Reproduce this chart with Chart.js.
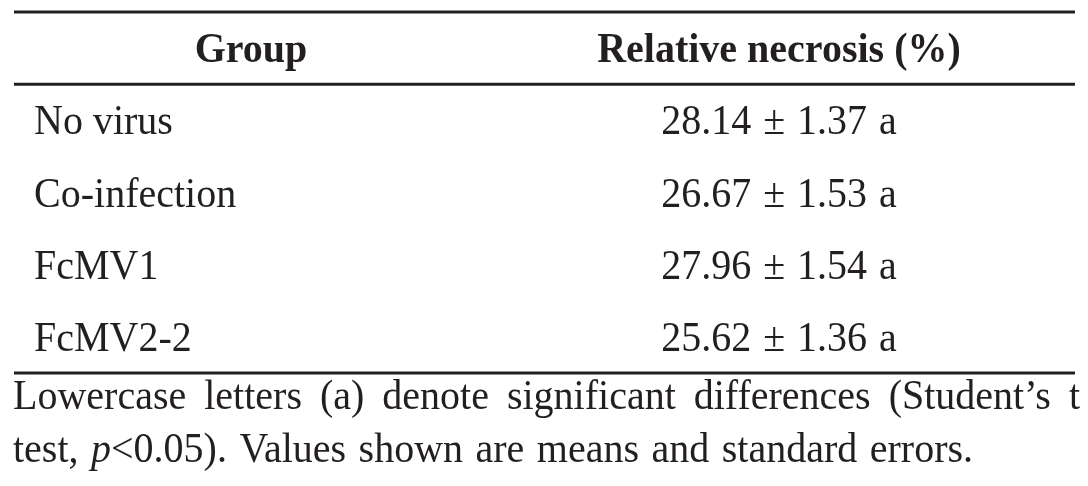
<!DOCTYPE html>
<html><head><meta charset="utf-8">
<script src="https://cdn.jsdelivr.net/npm/chart.js@4.4.0/dist/chart.umd.min.js"></script>
<style>html,body{margin:0;padding:0;background:#fff;overflow:hidden}</style>
</head><body>
<canvas id="c" width="1088" height="486"></canvas>
<script>
// ---- data ----
const headers = ['Group', 'Relative necrosis (%)'];
const groups = ['No virus', 'Co-infection', 'FcMV1', 'FcMV2-2'];
const means = [28.14, 26.67, 27.96, 25.62];
const sems = [1.37, 1.53, 1.54, 1.36];
const letters = ['a', 'a', 'a', 'a'];
const footLine1 = ['Lowercase', 'letters', '(a)', 'denote', 'significant', 'differences', '(Student\u2019s', 't'];
const footLine2 = [['test,', false], [' ', false], ['p', true], ['<0.05).', false], [' ', false], ['Values', false], [' ', false], ['shown', false], [' ', false], ['are', false], [' ', false], ['means', false], [' ', false], ['and', false], [' ', false], ['standard', false], [' ', false], ['errors.', false]];

// ---- styling ----
const INK = '#231f20';
const FONT = '"Liberation Serif", "Times New Roman", serif';
const SIZE = 40;
const VSCALE = 1.05;
const COL_GROUP_LEFT = 0.0189;   // fraction of table width
const COL_GROUP_CENTER = 0.2234;
const COL_VALUE_CENTER = 0.7210;

const rowLabels = [headers[0]].concat(groups);

function txt(ctx, s, x, y) {
  ctx.save();
  ctx.translate(x, y);
  ctx.scale(1, VSCALE);
  ctx.fillText(s, 0, 0);
  ctx.restore();
}

const tablePlugin = {
  id: 'tablePlugin',
  afterDatasetsDraw(chart) {
    const ctx = chart.ctx;
    const ys = chart.scales.y;
    const area = chart.chartArea;
    ctx.save();
    ctx.fillStyle = INK;
    ctx.strokeStyle = INK;
    ctx.textBaseline = 'alphabetic';
    const capHalf = 14;
    // rules
    ctx.lineWidth = 3;
    const hdrRule = (ys.getPixelForValue(0) + ys.getPixelForValue(1)) / 2;
    [area.top, hdrRule, area.bottom].forEach(y => {
      ctx.beginPath(); ctx.moveTo(area.left, y); ctx.lineTo(area.right, y); ctx.stroke();
    });
    // header
    ctx.font = 'bold ' + SIZE + 'px ' + FONT;
    ctx.textAlign = 'center';
    chart.getDatasetMeta(0).data.forEach((pt, i) => { txt(ctx, headers[i], pt.x, pt.y + capHalf); });
    // group names
    ctx.font = SIZE + 'px ' + FONT;
    ctx.textAlign = 'left';
    chart.getDatasetMeta(1).data.forEach((pt, i) => { txt(ctx, groups[i], pt.x, pt.y + capHalf); });
    // values (mean ± sem letter), slightly wider spaces
    chart.getDatasetMeta(2).data.forEach((pt, i) => {
      const parts = [means[i].toFixed(2), '\u00b1', sems[i].toFixed(2), letters[i]];
      const sp = ctx.measureText(' ').width + 2;
      const ws = parts.map(p => ctx.measureText(p).width);
      const tot = ws.reduce((a, b) => a + b, 0) + sp * (parts.length - 1);
      let x = pt.x - tot / 2;
      parts.forEach((p, k) => { txt(ctx, p, x, pt.y + capHalf); x += ws[k] + sp; });
    });
    // footnote (justified first line)
    const left = area.left - 1, right = 1080;
    const widths = footLine1.map(w => ctx.measureText(w).width);
    const total = widths.reduce((a, b) => a + b, 0);
    const gap = (right - left - total) / (footLine1.length - 1);
    let x = left;
    const y1 = area.bottom + 36;
    footLine1.forEach((w, i) => { txt(ctx, w, x, y1); x += widths[i] + gap; });
    const y2 = area.bottom + 89;
    x = left;
    footLine2.forEach(([t, it]) => {
      ctx.font = (it ? 'italic ' : '') + SIZE + 'px ' + FONT;
      if (t === ' ') { x += ctx.measureText(' ').width + 2.5; return; }
      txt(ctx, t, x, y2);
      x += ctx.measureText(t).width;
    });
    ctx.restore();
  }
};

new Chart(document.getElementById('c'), {
  type: 'scatter',
  data: {
    datasets: [
      { label: 'header', data: [{ x: COL_GROUP_CENTER, y: headers[0] }, { x: COL_VALUE_CENTER, y: headers[0] }], pointRadius: 0 },
      { label: 'group', data: groups.map(g => ({ x: COL_GROUP_LEFT, y: g })), pointRadius: 0 },
      { label: 'value', data: groups.map((g, i) => ({ x: COL_VALUE_CENTER, y: g, v: means[i] })), pointRadius: 0 }
    ]
  },
  options: {
    responsive: false,
    animation: false,
    events: [],
    layout: { padding: { top: 12, bottom: 113, left: 14, right: 13 } },
    plugins: { legend: { display: false }, tooltip: { enabled: false } },
    scales: {
      x: { type: 'linear', min: 0, max: 1, display: false },
      y: { type: 'category', labels: rowLabels, offset: true, display: false }
    }
  },
  plugins: [tablePlugin]
});
</script>
</body></html>
